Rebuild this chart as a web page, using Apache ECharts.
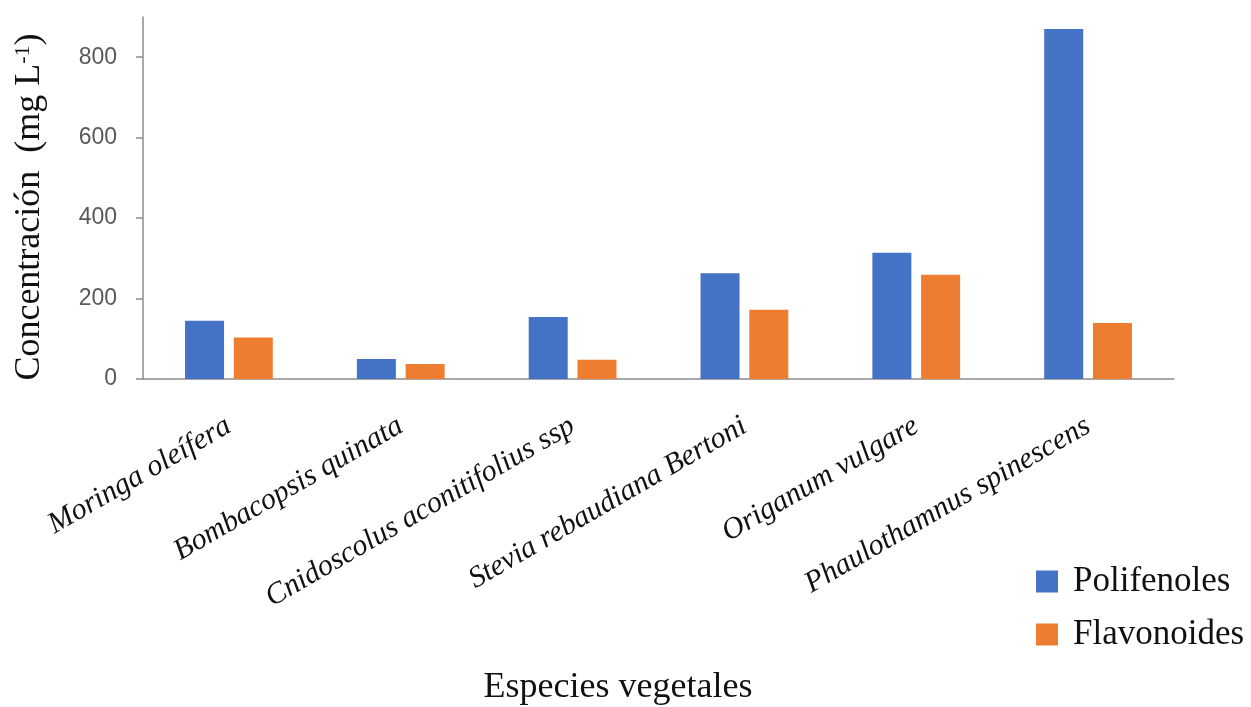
<!DOCTYPE html>
<html>
<head>
<meta charset="utf-8">
<script src="https://cdn.jsdelivr.net/npm/echarts@6/dist/echarts.min.js"></script>
<style>
  html, body { margin: 0; padding: 0; background: #ffffff; }
  #chart { width: 1251px; height: 707px; }
</style>
</head>
<body>
<div id="chart"></div>
<script>
// Plant species (x categories)
const especies = [
  'Moringa oleífera',
  'Bombacopsis quinata',
  'Cnidoscolus aconitifolius ssp',
  'Stevia rebaudiana Bertoni',
  'Origanum vulgare',
  'Phaulothamnus spinescens'
];
// Concentrations in mg L-1
const polifenoles = [145, 50, 154, 263, 314, 870];
const flavonoides = [103, 37, 48, 172, 259, 139];
// Y axis ticks
const yTicks = [0, 200, 400, 600, 800];
const yMax = 900;

const serif = '"Liberation Serif", "DejaVu Serif", serif';

const chart = echarts.init(document.getElementById('chart'));
chart.setOption({
  animation: false,
  backgroundColor: '#ffffff',
  grid: { left: 143, right: 77, top: 17, bottom: 328 },
  legend: {
    orient: 'vertical',
    left: 1031,
    top: 559,
    itemWidth: 22,
    itemHeight: 22,
    itemGap: 18,
    icon: 'rect',
    textStyle: { fontFamily: serif, fontSize: 35, color: '#111', lineHeight: 32, padding: [0, 0, 0, 10] },
    data: ['Polifenoles', 'Flavonoides']
  },
  xAxis: {
    type: 'category',
    data: especies,
    axisLine: { lineStyle: { color: '#8c8c8c', width: 1.5 } },
    axisTick: { show: false },
    axisLabel: {
      interval: 0,
      rotate: 30,
      margin: 45,
      fontFamily: serif,
      fontStyle: 'italic',
      fontSize: 30,
      color: '#111'
    }
  },
  yAxis: {
    type: 'value',
    min: 0,
    max: yMax,
    interval: 200,
    name: 'Concentración  (mg L{sup|-1})',
    nameLocation: 'middle',
    nameGap: 95,
    nameRotate: 90,
    nameTextStyle: {
      fontFamily: serif,
      fontSize: 36,
      color: '#111',
      padding: [0, 18, 0, 0],
      rich: {
        sup: { fontFamily: serif, fontSize: 22, color: '#111', verticalAlign: 'top', padding: [0, 0, 14, 0] }
      }
    },
    splitLine: { show: false },
    axisLine: { show: true, lineStyle: { color: '#8c8c8c', width: 1.5 } },
    axisTick: { show: true, length: 7, customValues: yTicks, lineStyle: { color: '#8c8c8c', width: 1.5 } },
    axisLabel: {
      customValues: yTicks,
      margin: 26,
      fontFamily: '"Liberation Sans", Arial, sans-serif',
      fontSize: 23,
      color: '#595959'
    }
  },
  series: [
    {
      name: 'Polifenoles',
      type: 'bar',
      data: polifenoles,
      barWidth: 39,
      barGap: '25%',
      itemStyle: { color: '#4472C4' }
    },
    {
      name: 'Flavonoides',
      type: 'bar',
      data: flavonoides,
      barWidth: 39,
      barGap: '25%',
      itemStyle: { color: '#ED7D31' }
    }
  ],
  graphic: [
    {
      type: 'text',
      x: 618,
      y: 688,
      style: {
        text: 'Especies vegetales',
        fontFamily: serif,
        fontSize: 36,
        fill: '#111',
        textAlign: 'center',
        textVerticalAlign: 'middle'
      }
    }
  ]
});
</script>
</body>
</html>
